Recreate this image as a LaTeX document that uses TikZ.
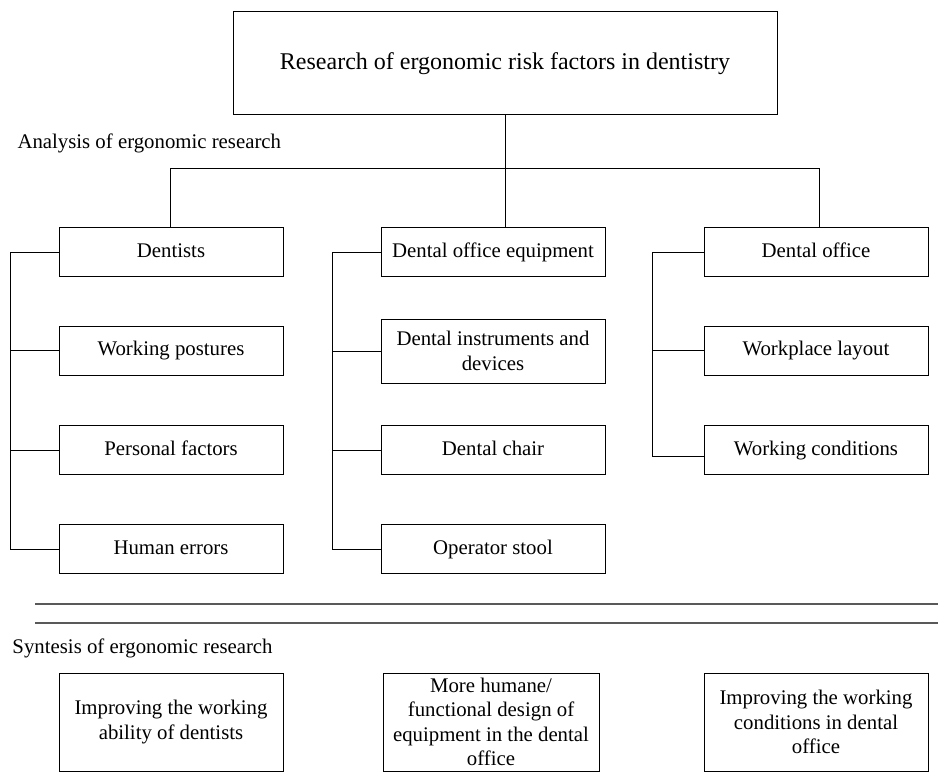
\documentclass[tikz,border=0pt]{standalone}
\usepackage{fontspec}
\setmainfont{Liberation Serif}
\usepackage{tikz}
\newcommand{\boxfont}{\fontsize{20.8}{24.5}\selectfont}
\tikzstyle{frame}=[draw, inner sep=0, outer sep=0, minimum width=224pt, align=center, font=\boxfont]
\tikzstyle{box}=[frame, minimum height=49pt, text height=15pt, text depth=5pt]
\tikzstyle{tallbox}=[frame, minimum height=64pt]
\tikzstyle{goalbox}=[frame, minimum height=98pt]
\tikzstyle{caption}=[anchor=west, inner sep=0, font=\boxfont]
\tikzstyle{chart}=[x=1pt, y=-1pt, line width=1pt,
                   % thin grey rules between the two parts
                   rule/.style={line width=1.2pt, black!65}]

\begin{document}
\begin{tikzpicture}[chart]
        \useasboundingbox (0, 0) rectangle (938, 772);
        \node[box, minimum width=544pt, minimum height=103pt, text height=18pt, font=\fontsize{24}{28}\selectfont] (T) at (505, 62.5) {Research of ergonomic risk factors in dentistry};
        \node[caption] (anal) at (17, 143) {Analysis of ergonomic research};
        \node[box] (A1) at (171, 252) {Dentists};
        \node[box] (A2) at (171, 350.5) {Working postures};
        \node[box] (A3) at (171, 450) {Personal factors};
        \node[box] (A4) at (171, 549) {Human errors};
        \node[box] (B1) at (493, 252) {Dental office equipment};
        \node[tallbox] (B2) at (493, 351) {Dental instruments and\\devices};
        \node[box] (B3) at (493, 450) {Dental chair};
        \node[box] (B4) at (493, 549) {Operator stool};
        \node[box] (C1) at (816, 252) {Dental office};
        \node[box] (C2) at (816, 350.5) {Workplace layout};
        \node[box] (C3) at (816, 450) {Working conditions};
        \coordinate (J) at (505, 168);
        \coordinate (Jl) at (170, 168);
        \coordinate (Jr) at (819, 168);
        \coordinate (La) at (10, 252);
        \coordinate (Ma) at (332, 252);
        \coordinate (Ra) at (652, 252);
        \draw (T.south) -- (J);
        \draw (Jl) -- (Jr);
        \draw (Jl) -- (Jl |- A1.north);
        \draw (J) -- (J |- B1.north);
        \draw (Jr) -- (Jr |- C1.north);
        \draw (A1.west) -- (La) |- (A4.west);
        \draw (A2.west) -- (A2.west -| La);
        \draw (A3.west) -- (A3.west -| La);
        \draw (B1.west) -- (Ma) |- (B4.west);
        \draw (B2.west) -- (B2.west -| Ma);
        \draw (B3.west) -- (B3.west -| Ma);
        \draw (C1.west) -- (Ra) |- ([yshift=-6pt]C3.west);
        \draw (C2.west) -- (C2.west -| Ra);
        \draw[rule] (35, 604) -- (938, 604);
        \draw[rule] (35, 623) -- (938, 623);
        \node[caption] (synt) at (12, 648) {Syntesis of ergonomic research};
        \node[goalbox] (S1) at (171, 722) {Improving the working\\ability of dentists};
        \node[goalbox, minimum width=216pt] (S2) at (491, 722) {More humane/\\functional design of\\equipment in the dental\\office};
        \node[goalbox] (S3) at (816, 722) {Improving the working\\conditions in dental\\office};
    \end{tikzpicture}
\end{document}
